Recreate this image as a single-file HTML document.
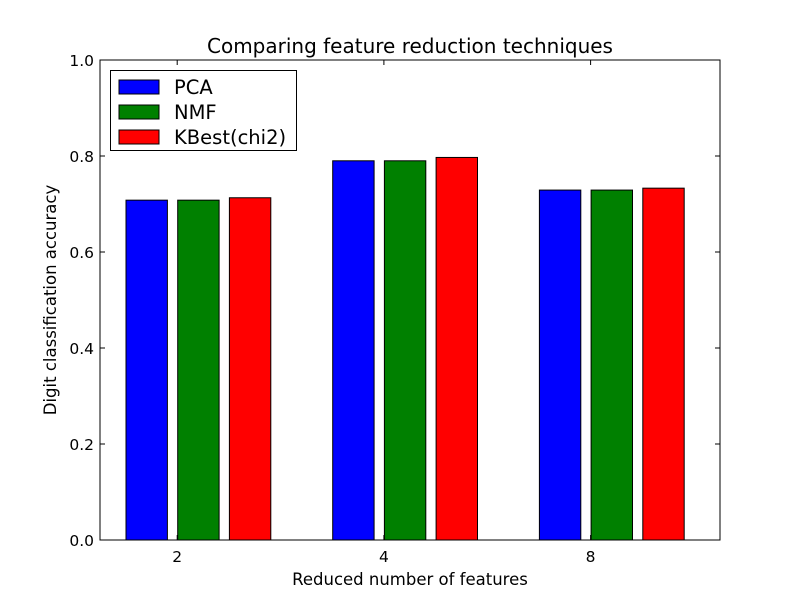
<!DOCTYPE html>
<html><head><meta charset="utf-8"><style>
body{margin:0;background:#fff;}
svg text{font-family:"DejaVu Sans","Liberation Sans",sans-serif;}
</style></head><body>
<svg id="chart" width="800" height="600">
<rect width="800" height="600" fill="#fff"/>
<text x="410" y="53" font-size="20" text-anchor="middle">Comparing feature reduction techniques</text>
<g id="bars"></g>
<g id="axes"></g>
</svg>
<script>
const categories=["2","4","8"];
const seriesNames=["PCA","NMF","KBest(chi2)"];
const pcaValues=[0.708,0.790,0.729];
const nmfValues=[0.708,0.790,0.729];
const kbestValues=[0.713,0.797,0.733];
const yTicks=["0.0","0.2","0.4","0.6","0.8","1.0"];

const ns="http://www.w3.org/2000/svg";
const L=100,R=720,T=60,B=540;
const colors=["#0000ff","#008000","#ff0000"];
const series=[pcaValues,nmfValues,kbestValues];
function y(v){return B-(v/1.0)*(B-T);}
const groupStart=126,groupStep=206.7,barW=41.4,barStep=51.7;
function xBar(ci,si){return groupStart+ci*groupStep+si*barStep;}
function mk(tag,attrs,parent){const e=document.createElementNS(ns,tag);for(const k in attrs)e.setAttribute(k,attrs[k]);parent.appendChild(e);return e;}
const bars=document.getElementById('bars'),axes=document.getElementById('axes');
series.forEach((vals,si)=>{vals.forEach((v,ci)=>{
 const r=mk('rect',{x:xBar(ci,si),y:y(v),width:barW,height:B-y(v),fill:colors[si],stroke:"#000","stroke-width":1},bars);
 
 
});});
const frame=mk('rect',{x:L,y:T,width:R-L,height:B-T,fill:"none",stroke:"#000","stroke-width":1},axes);


yTicks.forEach((t,i)=>{
 const v=parseFloat(t),yy=y(v);
 mk('line',{x1:L,x2:L+5,y1:yy,y2:yy,stroke:"#000"},axes);
 mk('line',{x1:R,x2:R-5,y1:yy,y2:yy,stroke:"#000"},axes);
 const tx=mk('text',{x:L-6,y:yy+6,"font-size":15.5,"text-anchor":"end"},axes);
 tx.textContent=t;
 
 
});
categories.forEach((c,ci)=>{
 const cx=xBar(ci,1)-0.5;
 mk('line',{x1:cx,x2:cx,y1:B,y2:B-5,stroke:"#000"},axes);
 mk('line',{x1:cx,x2:cx,y1:T,y2:T+5,stroke:"#000"},axes);
 const tx=mk('text',{x:cx,y:B+22,"font-size":15.5,"text-anchor":"middle"},axes);
 tx.textContent=c;
 
 
});
const xt=mk('text',{x:410,y:585,"font-size":16.5,"text-anchor":"middle"},axes);
xt.textContent="Reduced number of features";


const yt=mk('text',{x:0,y:0,"font-size":16.5,"text-anchor":"middle",transform:"translate(56,300) rotate(-90)"},axes);
yt.textContent="Digit classification accuracy";


const lg=mk('g',{},axes);


mk('rect',{x:110.5,y:70.5,width:186,height:80,fill:"#fff",stroke:"#000"},lg);
seriesNames.forEach((n,i)=>{
 const g=mk('g',{},lg);
 
 
 mk('rect',{x:119,y:80+i*25,width:40,height:14,fill:colors[i],stroke:"#000"},g);
 const t=mk('text',{x:174,y:94+i*25,"font-size":19.5},g);
 t.textContent=n;
});
</script>
</body></html>
